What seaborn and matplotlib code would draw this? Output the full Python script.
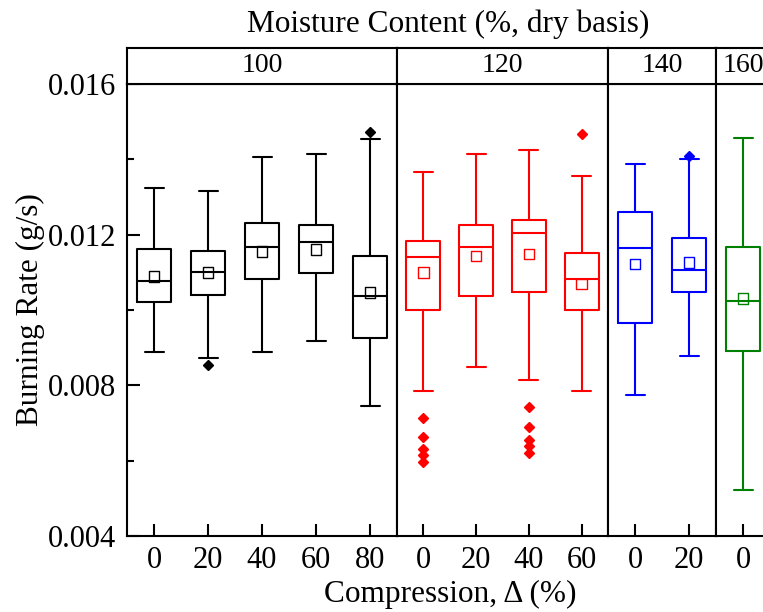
import numpy as np
import pandas as pd
import matplotlib
matplotlib.use("Agg")
import matplotlib.pyplot as plt
import seaborn as sns
from matplotlib.ticker import MultipleLocator, FormatStrFormatter

# ---------------- data ----------------
moisture = ["100", "120", "140", "160"]
colors = ["#000000", "#FF0000", "#0000FF", "#008000"]

comp_100 = ["0", "20", "40", "60", "80"]
whishi_100 = [0.01325, 0.01315, 0.01405, 0.01414, 0.01453]
q3_100 = [0.01162, 0.01156, 0.01232, 0.01226, 0.01143]
med_100 = [0.01078, 0.01100, 0.01166, 0.01180, 0.01038]
q1_100 = [0.01020, 0.01039, 0.01082, 0.01097, 0.00926]
whislo_100 = [0.00889, 0.00873, 0.00889, 0.00919, 0.00745]
mean_100 = [0.01089, 0.01100, 0.01155, 0.01161, 0.01047]
out_100 = [[], [0.00853], [], [], [0.01473]]

comp_120 = ["0", "20", "40", "60"]
whishi_120 = [0.01367, 0.01414, 0.01426, 0.01356]
q3_120 = [0.01182, 0.01226, 0.01239, 0.01151]
med_120 = [0.01142, 0.01168, 0.01204, 0.01083]
q1_120 = [0.01000, 0.01037, 0.01047, 0.01000]
whislo_120 = [0.00784, 0.00849, 0.00815, 0.00784]
mean_120 = [0.01100, 0.01143, 0.01148, 0.01069]
out_120 = [[0.00713, 0.00662, 0.00630, 0.00614, 0.00596], [],
           [0.00742, 0.00689, 0.00655, 0.00640, 0.00620], [0.01467]]

comp_140 = ["0", "20"]
whishi_140 = [0.01387, 0.01400]
q3_140 = [0.01260, 0.01190]
med_140 = [0.01164, 0.01107]
q1_140 = [0.00965, 0.01047]
whislo_140 = [0.00774, 0.00878]
mean_140 = [0.01122, 0.01126]
out_140 = [[], [0.01410]]

comp_160 = ["0"]
whishi_160 = [0.01457]
q3_160 = [0.01168]
med_160 = [0.01023]
q1_160 = [0.00892]
whislo_160 = [0.00523]
mean_160 = [0.01031]
out_160 = [[]]

panels = [
    (comp_100, whislo_100, q1_100, med_100, q3_100, whishi_100, mean_100, out_100),
    (comp_120, whislo_120, q1_120, med_120, q3_120, whishi_120, mean_120, out_120),
    (comp_140, whislo_140, q1_140, med_140, q3_140, whishi_140, mean_140, out_140),
    (comp_160, whislo_160, q1_160, med_160, q3_160, whishi_160, mean_160, out_160),
]


def sample_from_summary(lo, q1, med, q3, hi, outs):
    """Sample whose linear quartiles/whiskers/fliers equal the read summary."""
    low = sorted(o for o in outs if o < q1)
    high = sorted(o for o in outs if o > q3)
    k = max(len(low), len(high)) + 1
    vals = low + [lo] + [q1] * (k - len(low))
    vals += [med] * k
    vals += [q3] * k
    vals += [q3] * (k - len(high) - 1) + [hi] + high
    return vals


# ---------------- style ----------------
sns.set_theme(style="ticks")
plt.rcParams["font.family"] = ["Liberation Serif", "DejaVu Serif"]
plt.rcParams["axes.linewidth"] = 1.5

W, H = 763, 612
fig = plt.figure(figsize=(W / 100, H / 100), dpi=100)


def fx(x):
    return x / W


def fy(y):
    return (H - y) / H


edges = [127, 397, 608, 716, 770]
y_bot, y_top, y_head = 536, 84, 48
FS = 22.5
TFS = 22
LW = 1.5
BOX_PX = 34
CAP_PX = 19

for i, (comp, lo, q1, med, q3, hi, mn, outs) in enumerate(panels):
    x0, x1 = edges[i], edges[i + 1]
    col = colors[i]
    n = len(comp)
    ax = fig.add_axes([fx(x0), fy(y_bot), fx(x1) - fx(x0), fy(y_top) - fy(y_bot)])
    hx = fig.add_axes([fx(x0), fy(y_top), fx(x1) - fx(x0), fy(y_head) - fy(y_top)])

    rows = []
    for j, c in enumerate(comp):
        for v in sample_from_summary(lo[j], q1[j], med[j], q3[j], hi[j], outs[j]):
            rows.append({"comp": c, "rate": v})
    df = pd.DataFrame(rows)

    spacing = (x1 - x0) / n
    sns.boxplot(data=df, x="comp", y="rate", order=comp, color=col, fill=False,
                width=BOX_PX / spacing, linewidth=LW, whis=1.5, ax=ax,
                flierprops=dict(marker="D", markerfacecolor=col,
                                markeredgecolor=col, markersize=5.5))
    # widen whisker caps to match the reference
    half_cap = CAP_PX / 2 / spacing
    for cont in ax.containers:
        caps = getattr(cont, "caps", None)
        if caps is None:
            continue
        for line in caps:
            xd = np.asarray(line.get_xdata(), dtype=float)
            cx = xd.mean()
            line.set_xdata([cx - half_cap, cx + half_cap])

    sns.stripplot(x=comp, y=mn, order=comp, jitter=False, marker="s", size=7.5,
                  color=col, facecolors="none", edgecolor=col, linewidth=1,
                  ax=ax, zorder=5)

    ax.set_xlim(-0.5, n - 0.5)
    ax.set_ylim(0.004, 0.016)
    ax.set_xlabel("")
    ax.set_ylabel("")
    for s in ax.spines.values():
        s.set_visible(True)
        s.set_linewidth(LW)
        s.set_color("black")
    ax.tick_params(axis="x", direction="in", length=9, width=LW, pad=7,
                   labelsize=TFS, colors="black", top=False)
    ax.yaxis.set_major_locator(MultipleLocator(0.004))
    ax.yaxis.set_minor_locator(MultipleLocator(0.002))
    ax.yaxis.set_major_formatter(FormatStrFormatter("%.3f"))
    if i == 0:
        ax.tick_params(axis="y", which="major", direction="in", length=9,
                       width=LW, pad=8, labelsize=TFS, colors="black")
        ax.tick_params(axis="y", which="minor", direction="in", length=5,
                       width=LW, colors="black")
    else:
        ax.tick_params(axis="y", which="both", left=False, labelleft=False)

    hx.set_xlim(0, 1)
    hx.set_ylim(0, 1)
    hx.set_xticks([])
    hx.set_yticks([])
    for s in hx.spines.values():
        s.set_visible(True)
        s.set_linewidth(LW)
        s.set_color("black")
    hx.text(0.5, 0.5, moisture[i], ha="center", va="center", fontsize=20,
            color="black")

fig.text(fx(448), fy(24), "Moisture Content (%, dry basis)", ha="center",
         va="center", fontsize=FS, color="black")
fig.text(fx(450), fy(594), "Compression, \u0394 (%)", ha="center", va="center",
         fontsize=FS, color="black")
fig.text(fx(30), fy(310), "Burning Rate (g/s)", ha="center", va="center",
         rotation=90, fontsize=FS, color="black")

fig.savefig("out.png", dpi=100)
